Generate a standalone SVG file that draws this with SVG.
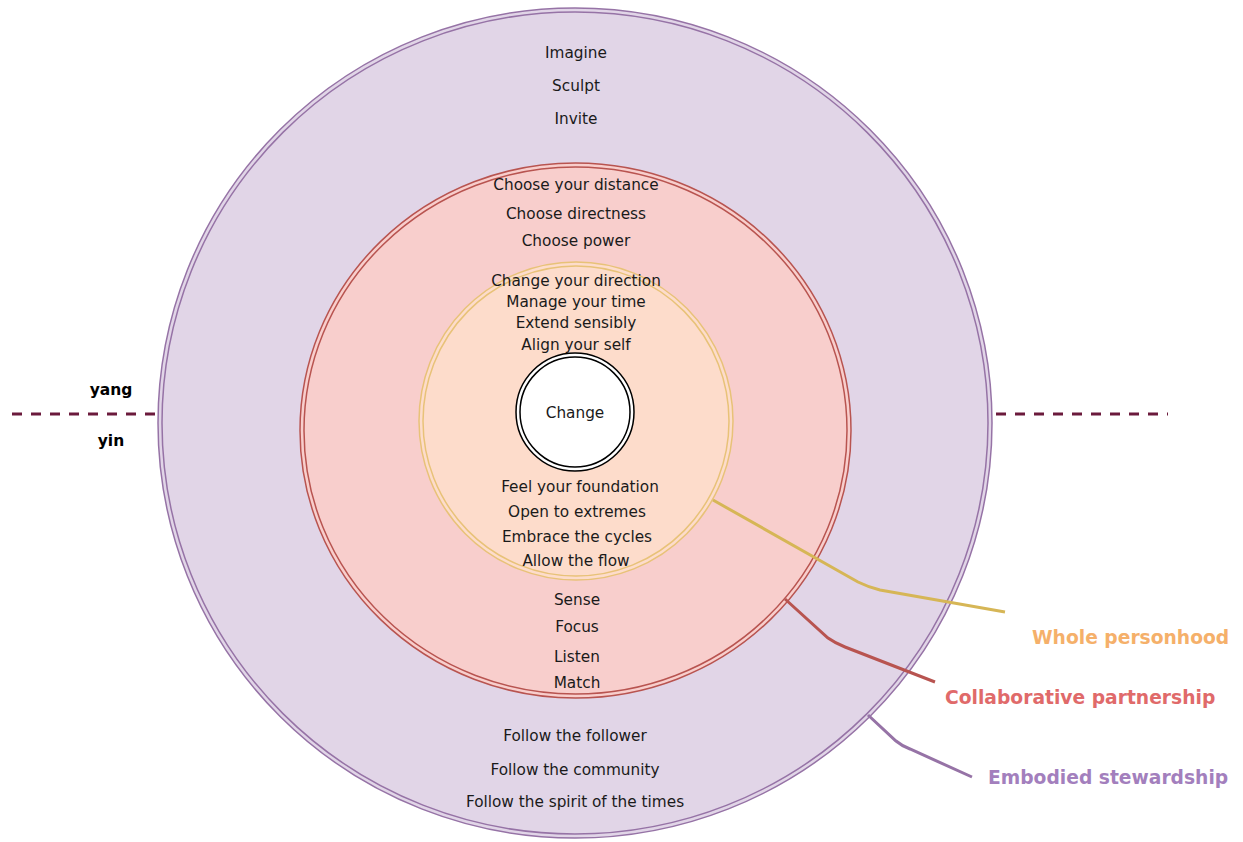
<svg xmlns="http://www.w3.org/2000/svg" width="1243" height="842" viewBox="0 0 1243 842">
<style>
text{font-family:"DejaVu Sans","Liberation Sans",sans-serif;text-anchor:middle;fill:#1a1a1a}
.t{font-size:15.3px}
.lbl{font-size:18.7px;font-weight:bold;text-anchor:start}
.yy{font-size:15.5px;font-weight:bold;fill:#000}
.dash{stroke:#6b1a3c;stroke-width:3;stroke-dasharray:10 9;fill:none}
.conn{fill:none;stroke-width:3}
</style>
<rect width="1243" height="842" fill="#ffffff"/>
<g id="yinyang-line">
<line class="dash" x1="12" y1="414" x2="160" y2="414"/>
<line class="dash" x1="996" y1="414" x2="1168" y2="414"/>
<text class="yy" x="111" y="395">yang</text>
<text class="yy" x="111" y="446">yin</text>
</g>
<g id="outer">
<ellipse cx="575" cy="423" rx="417" ry="415" fill="#e1d5e7" stroke="#9673a6" stroke-width="1.5"/>
<ellipse cx="575" cy="423" rx="413" ry="411" fill="none" stroke="#9673a6" stroke-width="1.5"/>
<text class="t" x="576" y="58">Imagine</text>
<text class="t" x="576" y="91">Sculpt</text>
<text class="t" x="576" y="124">Invite</text>
<text class="t" x="575" y="741">Follow the follower</text>
<text class="t" x="575" y="775">Follow the community</text>
<text class="t" x="575" y="807">Follow the spirit of the times</text>
</g>
<g id="middle">
<ellipse cx="575.5" cy="430.5" rx="275.5" ry="267.5" fill="#f8cecc" stroke="#b85450" stroke-width="1.5"/>
<ellipse cx="575.5" cy="430.5" rx="271.5" ry="263.5" fill="none" stroke="#b85450" stroke-width="1.5"/>
<text class="t" x="576" y="190">Choose your distance</text>
<text class="t" x="576" y="219">Choose directness</text>
<text class="t" x="576" y="246">Choose power</text>
<text class="t" x="577" y="605">Sense</text>
<text class="t" x="577" y="632">Focus</text>
<text class="t" x="577" y="662">Listen</text>
<text class="t" x="577" y="688">Match</text>
</g>
<g id="inner">
<ellipse cx="576" cy="421" rx="157" ry="159" fill="#fddccb" stroke="#e8c278" stroke-width="1.5"/>
<ellipse cx="576" cy="421" rx="153" ry="155" fill="none" stroke="#e8c278" stroke-width="1.5"/>
<text class="t" x="576" y="286">Change your direction</text>
<text class="t" x="576" y="307">Manage your time</text>
<text class="t" x="576" y="328">Extend sensibly</text>
<text class="t" x="576" y="350">Align your self</text>
<text class="t" x="580" y="492">Feel your foundation</text>
<text class="t" x="577" y="517">Open to extremes</text>
<text class="t" x="577" y="542">Embrace the cycles</text>
<text class="t" x="576" y="566">Allow the flow</text>
</g>
<g id="core">
<circle cx="575" cy="412" r="59" fill="#ffffff" stroke="#000000" stroke-width="1.5"/>
<circle cx="575" cy="412" r="55" fill="none" stroke="#000000" stroke-width="1.5"/>
<text class="t" x="575" y="418">Change</text>
</g>
<g id="connectors">
<path class="conn" stroke="#d6b656" d="M713,500 L858,582 Q868,587 880,590 L1005,612"/>
<path class="conn" stroke="#b85450" d="M785,599 L828,638 Q835,643 845,647 L935,682"/>
<path class="conn" stroke="#9673a6" d="M868,715 L896,741 Q902,746 910,749 L972,777"/>
</g>
<g id="labels">
<text class="lbl" x="1032" y="644" style="fill:#f5b06a">Whole personhood</text>
<text class="lbl" x="945" y="704" style="fill:#e06a6a">Collaborative partnership</text>
<text class="lbl" x="988" y="784" style="fill:#a37fbd">Embodied stewardship</text>
</g>
</svg>
